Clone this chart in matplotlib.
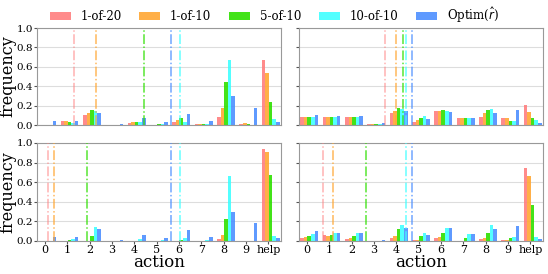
import numpy as np
import matplotlib
matplotlib.use("Agg")
import matplotlib.pyplot as plt

actions = ["0", "1", "2", "3", "4", "5", "6", "7", "8", "9", "help"]
series = ["1-of-20", "1-of-10", "5-of-10", "10-of-10", r"Optim($\hat{r}$)"]
colors = ["#ff7f7f", "#ffa733", "#2ee000", "#40ffff", "#4d8fff"]

# frequencies per panel: rows = series, columns = actions
top_left = [
    [0.00, 0.045, 0.10, 0.00, 0.02, 0.00, 0.035, 0.01, 0.085, 0.015, 0.67],
    [0.00, 0.043, 0.12, 0.00, 0.03, 0.00, 0.05, 0.01, 0.175, 0.025, 0.535],
    [0.00, 0.035, 0.15, 0.00, 0.035, 0.01, 0.07, 0.01, 0.44, 0.01, 0.24],
    [0.00, 0.025, 0.145, 0.00, 0.03, 0.01, 0.035, 0.01, 0.67, 0.00, 0.06],
    [0.04, 0.045, 0.125, 0.015, 0.07, 0.03, 0.115, 0.04, 0.30, 0.18, 0.03],
]
top_right = [
    [0.085, 0.085, 0.08, 0.01, 0.12, 0.035, 0.14, 0.075, 0.085, 0.075, 0.205],
    [0.085, 0.085, 0.085, 0.01, 0.14, 0.05, 0.145, 0.075, 0.12, 0.07, 0.13],
    [0.08, 0.08, 0.085, 0.01, 0.175, 0.075, 0.15, 0.075, 0.15, 0.045, 0.07],
    [0.08, 0.08, 0.085, 0.01, 0.17, 0.095, 0.145, 0.075, 0.165, 0.045, 0.05],
    [0.10, 0.09, 0.09, 0.02, 0.14, 0.065, 0.13, 0.075, 0.12, 0.15, 0.02],
]
bottom_left = [
    [0.00, 0.00, 0.005, 0.00, 0.00, 0.00, 0.005, 0.00, 0.025, 0.00, 0.94],
    [0.00, 0.00, 0.005, 0.00, 0.00, 0.00, 0.005, 0.00, 0.06, 0.00, 0.905],
    [0.00, 0.01, 0.055, 0.00, 0.005, 0.005, 0.01, 0.00, 0.22, 0.00, 0.675],
    [0.00, 0.025, 0.145, 0.00, 0.025, 0.015, 0.03, 0.01, 0.665, 0.00, 0.055],
    [0.04, 0.045, 0.12, 0.015, 0.065, 0.03, 0.115, 0.04, 0.30, 0.18, 0.03],
]
bottom_right = [
    [0.035, 0.06, 0.025, 0.00, 0.03, 0.01, 0.03, 0.005, 0.025, 0.01, 0.745],
    [0.04, 0.055, 0.03, 0.00, 0.055, 0.015, 0.045, 0.005, 0.035, 0.015, 0.66],
    [0.055, 0.065, 0.055, 0.00, 0.12, 0.055, 0.085, 0.03, 0.085, 0.03, 0.37],
    [0.075, 0.08, 0.08, 0.005, 0.165, 0.085, 0.135, 0.07, 0.16, 0.045, 0.045],
    [0.10, 0.085, 0.085, 0.015, 0.13, 0.065, 0.13, 0.07, 0.12, 0.15, 0.02],
]

# mean-action markers (vertical dash-dot lines), one per series
lines_tl = [1.31, 2.27, 4.45, 6.04, 5.65]
lines_tr = [3.50, 3.98, 4.29, 4.44, 4.69]
lines_bl = [0.12, 0.40, 1.87, 6.04, 5.65]
lines_br = [0.70, 1.18, 2.65, 4.42, 4.69]

plt.rcParams["font.family"] = "DejaVu Serif"

fig = plt.figure(figsize=(5.48, 2.74), dpi=100)
W, H = 548, 274

def make_ax(x0, x1, y0, y1):
    return fig.add_axes([x0 / W, 1 - y1 / H, (x1 - x0) / W, (y1 - y0) / H])

axes = [
    (make_ax(37, 281, 28, 125), top_left, lines_tl, True, False),
    (make_ax(299, 543, 28, 125), top_right, lines_tr, False, False),
    (make_ax(37, 281, 143, 241), bottom_left, lines_bl, True, True),
    (make_ax(299, 543, 143, 241), bottom_right, lines_br, False, True),
]

x = np.arange(len(actions))
w = 0.16

for ax, data, vlines, left, bottom in axes:
    for i in range(len(series)):
        ax.bar(x + (i - 1.4) * w, data[i], width=w, color=colors[i],
               alpha=0.9, label=series[i], zorder=2)
    for i, v in enumerate(vlines):
        ax.axvline(v, color=colors[i], linestyle="-.", linewidth=1.1,
                   alpha=0.8 if i else 0.6, zorder=3)
    ax.set_xlim(-0.36, 10.56)
    ax.set_ylim(0, 1)
    ax.set_yticks([0, 0.2, 0.4, 0.6, 0.8, 1.0])
    ax.grid(axis="y", color="#dddddd", linewidth=0.8, zorder=0)
    ax.set_axisbelow(True)
    for s in ax.spines.values():
        s.set_color("#999999")
    ax.tick_params(axis="y", labelsize=7.5, length=2, color="#555555", pad=1)
    ax.tick_params(axis="x", labelsize=8, length=2, color="#555555", pad=1)
    ax.set_xticks(x)
    if bottom:
        ax.set_xticklabels(actions)
        ax.set_xlabel("action", fontsize=12, labelpad=-1)
    else:
        ax.set_xticklabels([])
        ax.tick_params(axis="x", length=0)
    if left:
        ax.set_ylabel("frequency", fontsize=11.5)
        ax.yaxis.set_label_coords(-0.083, 0.5)
    else:
        ax.set_yticklabels([])

handles, labels = axes[0][0].get_legend_handles_labels()
fig.legend(handles, labels, loc="center", bbox_to_anchor=(0.5, 0.945),
           ncol=5, frameon=False, fontsize=8.5, handlelength=1.8,
           handleheight=0.6, columnspacing=1.5, handletextpad=0.8)

fig.savefig("out.png", dpi=100)
